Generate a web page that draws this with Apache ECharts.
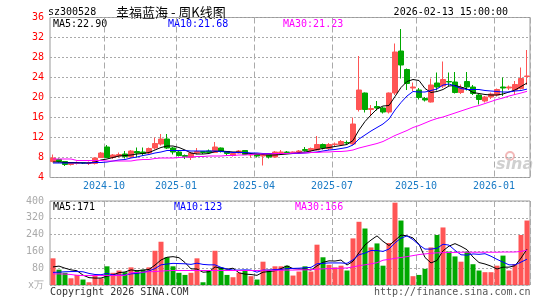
<!DOCTYPE html>
<html>
<head>
<meta charset="utf-8">
<script src="https://cdn.jsdelivr.net/npm/echarts@6/dist/echarts.min.js"></script>
<style>
  html, body { margin: 0; padding: 0; background: #fff; }
  #chart { width: 545px; height: 300px; }
</style>
</head>
<body>
<div id="chart"></div>
<script>
// weekly bars, last trading day of each week
const dates = [
  '2024-08-09','2024-08-16','2024-08-23','2024-08-30','2024-09-06','2024-09-13','2024-09-20','2024-09-27','2024-09-30','2024-10-11',
  '2024-10-18','2024-10-25','2024-11-01','2024-11-08','2024-11-15','2024-11-22','2024-11-29','2024-12-06','2024-12-13','2024-12-20',
  '2024-12-27','2025-01-03','2025-01-10','2025-01-17','2025-01-24','2025-01-27','2025-02-07','2025-02-14','2025-02-21','2025-02-28',
  '2025-03-07','2025-03-14','2025-03-21','2025-03-28','2025-04-03','2025-04-11','2025-04-18','2025-04-25','2025-04-30','2025-05-09',
  '2025-05-16','2025-05-23','2025-05-30','2025-06-06','2025-06-13','2025-06-20','2025-06-27','2025-07-04','2025-07-11','2025-07-18',
  '2025-07-25','2025-08-01','2025-08-08','2025-08-15','2025-08-22','2025-08-29','2025-09-05','2025-09-12','2025-09-19','2025-09-26',
  '2025-09-30','2025-10-10','2025-10-17','2025-10-24','2025-10-31','2025-11-07','2025-11-14','2025-11-21','2025-11-28','2025-12-05',
  '2025-12-12','2025-12-19','2025-12-26','2025-12-31','2026-01-09','2026-01-16','2026-01-23','2026-01-30','2026-02-06','2026-02-13'
]

const opens = [
  7.2,7.6,7.2,6.6,6.8,7.0,6.8,6.8,8.0,10.1,
  8.0,8.3,8.7,8.1,9.2,9.1,8.9,9.9,10.7,11.7,
  9.9,9.1,8.4,8.0,8.9,9.2,9.3,9.0,9.9,9.2,
  8.4,8.9,9.4,8.5,8.7,8.3,8.6,8.1,9.0,9.1,
  9.0,9.1,9.6,9.4,9.5,10.6,9.8,10.6,10.6,11.0,
  10.7,17.6,20.9,17.6,18.2,17.9,17.1,20.9,29.3,25.6,
  21.9,21.5,19.8,19.1,22.9,22.3,23.2,23.1,21.0,23.2,
  22.1,20.5,19.3,20.1,20.5,22.1,21.9,21.5,21.8,24.2
]
const closes = [
  7.9,7.2,6.6,6.9,7.0,6.9,7.0,7.9,8.9,8.0,
  8.5,8.6,8.2,9.3,8.9,8.8,9.8,10.8,11.7,9.9,
  9.1,8.4,8.2,8.9,9.2,9.0,9.0,10.1,9.2,8.8,
  8.8,9.3,8.6,8.6,8.3,8.5,8.1,9.1,9.1,9.0,
  9.1,9.3,9.4,9.8,10.6,9.9,10.6,10.7,11.2,10.9,
  14.7,21.5,17.6,17.8,17.9,17.1,20.9,29.1,26.5,22.8,
  22.1,20.0,19.5,22.5,22.1,23.6,23.1,21.0,22.0,22.1,
  20.8,19.6,20.1,20.7,21.6,21.9,22.1,22.6,23.8,24.3
]
const lows = [
  7.0,7.0,6.3,6.4,6.6,6.7,6.5,6.6,7.9,7.9,
  7.7,8.0,7.8,7.9,8.0,8.3,8.6,9.6,10.4,9.7,
  8.6,8.2,7.7,7.5,8.6,8.7,8.8,8.9,9.0,8.5,
  8.2,8.8,8.5,8.0,8.0,6.4,7.8,7.9,8.7,8.8,
  8.9,9.0,9.2,9.2,9.4,9.6,9.5,10.3,10.3,10.6,
  10.5,17.2,17.0,16.5,17.4,16.8,16.8,20.5,23.8,21.5,
  21.3,19.6,19.2,19.0,21.4,21.9,22.3,20.8,20.7,21.4,
  20.5,18.6,19.0,19.7,20.2,20.3,21.5,20.5,21.6,22.5
]
const highs = [
  8.6,7.8,7.3,7.1,7.2,7.1,7.2,8.0,9.1,10.5,
  8.7,9.0,9.3,9.5,10.0,10.0,10.0,12.0,12.7,12.7,
  10.1,9.3,8.6,9.1,9.9,9.3,9.6,11.1,10.0,9.3,
  8.9,9.5,9.5,8.7,8.8,8.6,8.7,9.3,9.5,9.3,
  9.2,9.5,10.1,10.0,12.3,10.8,10.9,11.0,11.5,11.4,
  16.0,28.3,21.0,18.5,19.3,18.1,21.0,30.8,33.7,25.8,
  23.0,21.9,20.1,23.8,25.0,27.2,25.0,25.1,22.6,25.1,
  22.5,20.7,20.3,21.0,21.8,24.0,22.4,23.3,26.0,29.5
]
// volume in 万手
const volumes = [
  127,73,58,32,48,26,13,48,32,89,
  58,69,61,84,69,73,84,163,206,132,
  89,58,48,58,127,13,69,163,84,48,
  37,58,67,42,26,111,73,89,89,92,
  45,64,89,64,192,132,96,84,92,69,
  222,301,269,179,198,92,200,392,307,179,
  42,48,77,179,238,274,159,136,111,159,
  99,69,61,61,92,140,69,100,238,307
]

const ma5 = [
  7.1,7.1,7.0,7.0,7.0,6.9,6.9,7.1,7.5,7.7,
  8.0,8.3,8.4,8.5,8.7,8.8,9.0,9.5,10.0,10.3,
  10.3,10.0,9.5,8.9,8.7,8.7,8.8,9.2,9.3,9.2,
  9.1,9.1,8.9,8.8,8.7,8.6,8.5,8.5,8.6,8.7,
  8.8,9.0,9.1,9.3,9.6,9.8,10.0,10.2,10.4,10.6,
  11.4,13.5,15.2,16.5,17.7,18.3,18.4,20.2,22.0,23.2,
  23.6,23.4,21.8,21.0,21.2,21.6,22.3,22.4,22.1,21.7,
  21.0,20.8,20.6,20.5,20.5,20.7,21.1,21.5,22.2,22.90
]
const ma10 = [
  6.9,6.9,6.9,6.9,6.9,6.9,6.9,7.0,7.0,7.1,
  7.3,7.5,7.6,7.9,8.1,8.4,8.6,8.9,9.1,9.4,
  9.4,9.4,9.4,9.3,9.3,9.3,9.3,9.3,9.2,9.1,
  9.0,9.0,9.0,8.9,8.9,8.8,8.8,8.8,8.8,8.8,
  8.8,8.8,8.9,9.0,9.1,9.3,9.5,9.6,9.8,10.0,
  10.5,11.7,12.5,13.3,14.0,14.7,15.7,17.5,19.0,20.3,
  21.2,21.1,21.1,21.4,21.7,22.5,22.7,22.3,21.8,21.6,
  21.6,21.6,21.4,21.3,21.2,21.1,21.1,21.3,21.4,21.68
]
const ma30 = [
  7.7,7.7,7.7,7.7,7.4,7.4,7.4,7.4,7.4,7.3,
  7.3,7.3,7.3,7.3,7.5,7.6,7.6,7.8,7.9,7.9,
  7.9,8.0,8.1,8.1,8.2,8.2,8.3,8.3,8.3,8.4,
  8.4,8.5,8.5,8.6,8.7,8.7,8.7,8.8,8.8,8.8,
  8.9,8.9,8.9,9.0,9.0,9.1,9.1,9.2,9.2,9.3,
  9.5,9.9,10.2,10.5,10.8,11.2,11.8,12.4,12.9,13.4,
  14.0,14.4,14.9,15.4,15.8,16.1,16.5,16.9,17.3,17.7,
  18.1,18.4,18.8,19.2,19.6,19.9,20.3,20.6,20.9,21.23
]

const volMa5 = [
  86,90,80,72,68,47,35,33,33,42,
  48,59,62,72,68,71,74,95,119,132,
  135,130,107,77,76,61,63,86,80,75,
  80,58,52,50,46,61,64,68,78,91,
  78,76,76,71,91,108,115,114,119,95,
  113,154,191,214,234,208,188,212,238,234,
  224,194,131,105,117,163,185,197,184,168,
  133,107,100,90,76,85,85,92,128,171
]
const volMa10 = [
  60,61,63,64,64,63,55,50,49,55,
  48,47,48,53,55,60,67,78,96,100,
  103,102,101,98,104,98,96,96,84,76,
  71,71,72,71,61,71,71,74,74,78,
  79,80,82,84,101,103,105,105,105,103,
  120,144,152,164,164,160,171,201,223,234,
  216,191,171,171,175,194,190,165,144,142,
  148,146,149,137,122,109,96,96,109,123
]
const volMa30 = [
  53,53,52,50,46,45,45,45,45,45,
  45,45,46,58,60,61,63,64,66,68,
  69,69,69,69,69,69,69,69,69,69,
  69,69,69,69,69,70,70,70,70,71,
  71,72,72,73,75,77,78,79,80,81,
  86,92,96,101,106,118,122,127,131,135,
  140,145,148,151,153,154,155,155,156,156,
  156,156,156,156,156,157,157,157,160,166
]

const priceMin = 4, priceMax = 36, priceStep = 4
const volMin = 0, volMax = 400, volStep = 80

const RED = '#ff5555'
const GREEN = '#00a800'
const MONO = '"DejaVu Sans Mono", "Liberation Mono", monospace'

// first week of Jan/Apr/Jul/Oct gets a label and a dashed line
const isQuarterStart = (idx) => {
  if (idx === 0) return false
  const m = dates[idx].slice(5, 7)
  return m !== dates[idx - 1].slice(5, 7) && ['01', '04', '07', '10'].includes(m)
}

const chart = echarts.init(document.getElementById('chart'))

const maLine = (name, data, color, axis) => ({
  name,
  type: 'line',
  data,
  xAxisIndex: axis,
  yAxisIndex: axis,
  symbol: 'none',
  smooth: false,
  lineStyle: { width: 1, color },
  z: 5
})

const text = (str, x, y, fill, font, align) => ({
  type: 'text',
  silent: true,
  style: {
    text: str, x, y, fill,
    font: font || '10px ' + MONO,
    align: align || 'left',
    verticalAlign: 'middle'
  }
})

const xAxisBase = {
  type: 'category',
  data: dates,
  boundaryGap: true,
  axisLine: { show: false },
  axisTick: { show: false },
  splitLine: {
    show: true,
    interval: (idx) => isQuarterStart(idx),
    lineStyle: { color: '#aaa', type: [6, 3], width: 1 }
  }
}

const option = {
  animation: false,
  backgroundColor: '#fff',
  grid: [
    { left: 50, right: 15, top: 17.5, height: 160, show: true, borderColor: '#999', borderWidth: 1 },
    { left: 50, right: 15, top: 201, height: 84, show: true, borderColor: '#999', borderWidth: 1 }
  ],
  xAxis: [
    {
      ...xAxisBase,
      gridIndex: 0,
      axisLabel: {
        show: true,
        interval: (idx) => isQuarterStart(idx),
        formatter: (v) => v.slice(0, 7),
        color: '#1a7bc6',
        fontFamily: MONO,
        fontSize: 10,
        margin: 4,
        padding: [0, 6, 0, 0]
      }
    },
    {
      ...xAxisBase,
      gridIndex: 1,
      axisLabel: { show: false }
    }
  ],
  yAxis: [
    {
      type: 'value',
      gridIndex: 0,
      min: priceMin,
      max: priceMax,
      interval: priceStep,
      axisLine: { show: false },
      axisTick: { show: false },
      axisLabel: { color: '#ff0000', fontFamily: MONO, fontSize: 10, margin: 6 },
      splitLine: { lineStyle: { color: '#aaa', type: [2, 2] } }
    },
    {
      type: 'value',
      gridIndex: 1,
      min: volMin,
      max: volMax,
      interval: volStep,
      axisLine: { show: false },
      axisTick: { show: false },
      axisLabel: {
        color: '#aaa',
        fontFamily: MONO,
        fontSize: 10,
        margin: 6,
        formatter: (v) => (v === 0 ? 'x万' : v)
      },
      splitLine: { lineStyle: { color: '#aaa', type: [2, 2] } }
    }
  ],
  series: [
    {
      name: 'K',
      type: 'candlestick',
      xAxisIndex: 0,
      yAxisIndex: 0,
      barWidth: 5,
      data: dates.map((d, i) => [opens[i], closes[i], lows[i], highs[i]]),
      itemStyle: {
        color: RED,
        color0: GREEN,
        borderColor: RED,
        borderColor0: GREEN,
        borderWidth: 1
      },
      z: 3
    },
    maLine('MA5', ma5, '#000', 0),
    maLine('MA10', ma10, '#0000ff', 0),
    maLine('MA30', ma30, '#ff00ff', 0),
    {
      name: 'VOL',
      type: 'bar',
      xAxisIndex: 1,
      yAxisIndex: 1,
      barWidth: 5,
      data: volumes.map((v, i) => ({
        value: v,
        itemStyle: { color: closes[i] >= opens[i] ? RED : GREEN }
      })),
      z: 3
    },
    maLine('VMA5', volMa5, '#000', 1),
    maLine('VMA10', volMa10, '#0000ff', 1),
    maLine('VMA30', volMa30, '#ff00ff', 1)
  ],
  graphic: [
    text('sz300528', 48, 12, '#000'),
    text('幸福蓝海 - 周K线图', 116, 12, '#000', '13px "Noto Sans CJK SC"'),
    text('2026-02-13 15:00:00', 508, 12, '#000', null, 'right'),
    text('MA5:' + ma5[ma5.length - 1].toFixed(2), 53, 24, '#000'),
    text('MA10:' + ma10[ma10.length - 1].toFixed(2), 168, 24, '#0000ff'),
    text('MA30:' + ma30[ma30.length - 1].toFixed(2), 283, 24, '#ff00ff'),
    text('MA5:' + volMa5[volMa5.length - 1], 53, 207, '#000'),
    text('MA10:' + volMa10[volMa10.length - 1], 174, 207, '#0000ff'),
    text('MA30:' + volMa30[volMa30.length - 1], 295, 207, '#ff00ff'),
    text('Copyright 2026 SINA.COM', 50, 292, '#333'),
    text('http://finance.sina.com.cn', 374, 292, '#555'),
    // sina watermark
    {
      type: 'circle',
      silent: true,
      shape: { cx: 510, cy: 156, r: 4 },
      style: { fill: 'none', stroke: '#f2b8b8', lineWidth: 2 }
    },
    text('sina', 496, 165, '#d0d0d0', 'italic bold 16px "DejaVu Sans"')
  ]
}

chart.setOption(option)
</script>
</body>
</html>
